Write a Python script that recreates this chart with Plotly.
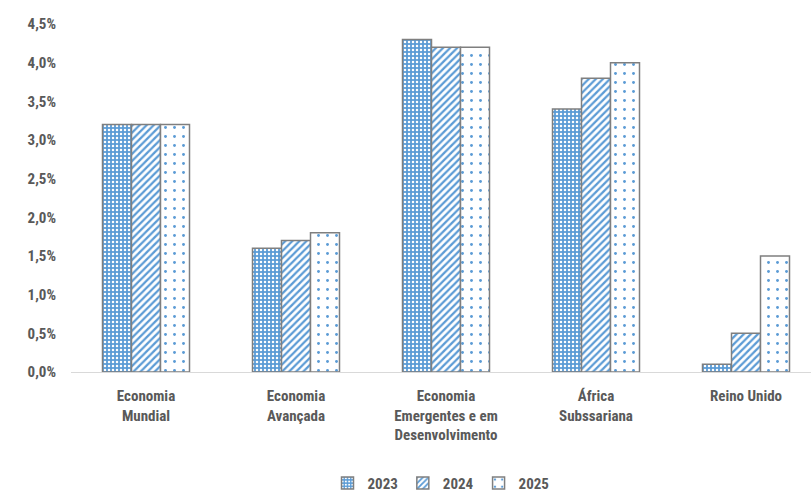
import plotly.graph_objects as go

categories = ["<b>Economia</b><br><b>Mundial</b>", "<b>Economia</b><br><b>Avançada</b>",
              "<b>Economia</b><br><b>Emergentes e em</b><br><b>Desenvolvimento</b>",
              "<b>África</b><br><b>Subssariana</b>", "<b>Reino Unido</b>"]
v2023 = [3.2, 1.6, 4.3, 3.4, 0.1]
v2024 = [3.2, 1.7, 4.2, 3.8, 0.5]
v2025 = [3.2, 1.8, 4.2, 4.0, 1.5]
yticks = [0, 0.5, 1, 1.5, 2, 2.5, 3, 3.5, 4, 4.5]
yticktext = ["<b>0,0%</b>", "<b>0,5%</b>", "<b>1,0%</b>", "<b>1,5%</b>", "<b>2,0%</b>",
             "<b>2,5%</b>", "<b>3,0%</b>", "<b>3,5%</b>", "<b>4,0%</b>", "<b>4,5%</b>"]

BLUE = "#5B9BD5"
EDGE = "#7F7F7F"
TXT = "#595959"
FONT = "Liberation Sans Narrow, Roboto Condensed, Arial Narrow, sans-serif"

fig = go.Figure()
fig.add_trace(go.Bar(name="<b>2023</b>", x=categories, y=v2023,
                     marker=dict(color=BLUE, line=dict(color=EDGE, width=1.5),
                                 pattern=dict(shape=".", fgcolor="white", bgcolor=BLUE,
                                              size=4, solidity=0.3, fillmode="replace"))))
fig.add_trace(go.Bar(name="<b>2024</b>", x=categories, y=v2024,
                     marker=dict(color="white", line=dict(color=EDGE, width=1.5),
                                 pattern=dict(shape="/", fgcolor=BLUE, bgcolor="white",
                                              size=5, solidity=0.45, fillmode="replace"))))
fig.add_trace(go.Bar(name="<b>2025</b>", x=categories, y=v2025,
                     marker=dict(color="white", line=dict(color=EDGE, width=1.5),
                                 pattern=dict(shape=".", fgcolor=BLUE, bgcolor="white",
                                              size=9, solidity=0.08, fillmode="replace"))))

fig.update_layout(
    width=811, height=500,
    margin=dict(l=71, r=0, t=24, b=128, autoexpand=False),
    plot_bgcolor="white", paper_bgcolor="white",
    barmode="group", bargap=0.42, bargroupgap=0,
    font=dict(family=FONT, size=15, color=TXT),
    legend=dict(orientation="h", x=0.5, xanchor="center", y=-0.32, yanchor="middle",
                font=dict(family=FONT, size=15, color=TXT), itemwidth=30,
                traceorder="normal", tracegroupgap=0),
    showlegend=True,
)
fig.update_xaxes(range=[-0.5, 4.4333], showline=True, linecolor="#D9D9D9", linewidth=1,
                 showgrid=False, ticks="", tickfont=dict(family=FONT, size=15, color=TXT),
                 tickangle=0, ticklabelstandoff=10)
fig.update_yaxes(range=[0, 4.5], tickvals=yticks, ticktext=yticktext, showgrid=False,
                 zeroline=False, showline=False, ticks="", ticklabelstandoff=14,
                 tickfont=dict(family=FONT, size=15, color=TXT))

fig.write_html("out.html")
